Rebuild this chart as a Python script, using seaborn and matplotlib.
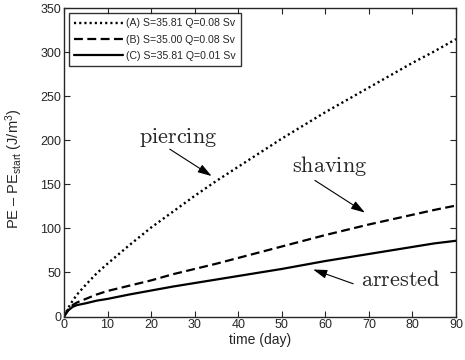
import numpy as np
import pandas as pd
import matplotlib
matplotlib.use("Agg")
import matplotlib.pyplot as plt
import seaborn as sns

# time axis (days) and potential-energy gain for each run (J/m^3)
time_days = [0, 1, 2, 3, 5, 7.5, 10, 15, 20, 25, 30, 35, 40, 45, 50, 55, 60, 65, 70, 75, 80, 85, 90]
pe_a = [0, 10, 18, 25, 36, 49, 60, 81, 101, 119, 137, 154, 170, 186, 202, 217, 232, 246, 260, 274, 288, 301, 315]
pe_b = [0, 8, 13, 16, 20, 25, 29, 35, 41, 48, 54, 60, 66.5, 73, 79.5, 86, 92.5, 98.5, 104.5, 110, 115.5, 121, 126]
pe_c = [0, 7, 11, 13, 15, 18, 20, 25, 29.5, 34, 38, 42, 46, 50, 54, 58.5, 63, 67, 71, 75, 79, 83, 86]

series_labels = ["(A) S=35.81 Q=0.08 Sv", "(B) S=35.00 Q=0.08 Sv", "(C) S=35.81 Q=0.01 Sv"]
x_ticks = list(range(0, 91, 10))
y_ticks = list(range(0, 351, 50))

sns.set_style("ticks")
plt.rcParams["font.family"] = ["Liberation Sans", "DejaVu Sans"]
plt.rcParams["mathtext.fontset"] = "custom"
plt.rcParams["mathtext.rm"] = "Liberation Sans"
plt.rcParams["mathtext.it"] = "Liberation Sans:italic"

fig = plt.figure(figsize=(4.65, 3.6), dpi=100)
ax = fig.add_axes([0.1376, 0.1208, 0.9806 - 0.1376, 0.977 - 0.1208])

styles = [(0, (0.9, 1.3)), (0, (4.0, 2.0)), "-"]
widths = [1.7, 1.6, 1.6]
for vals, lab, ls, lw in zip([pe_a, pe_b, pe_c], series_labels, styles, widths):
    df = pd.DataFrame({"t": time_days, "pe": vals})
    sns.lineplot(data=df, x="t", y="pe", ax=ax, color="black",
                 linestyle=ls, linewidth=lw, label=lab)

ax.set_xlim(0, 90)
ax.set_ylim(0, 350)
ax.set_xticks(x_ticks)
ax.set_yticks(y_ticks)
ax.tick_params(direction="in", length=4, width=0.8, labelsize=9,
               top=True, right=True, pad=2)
for s in ax.spines.values():
    s.set_linewidth(1.0)
    s.set_visible(True)

ax.set_xlabel("time (day)", fontsize=10, labelpad=1)
ax.set_ylabel(r"PE – PE$_{\mathrm{start}}$ (J/m$^3$)", fontsize=10.5)
ax.yaxis.set_label_coords(-0.1, 0.48)

leg = ax.legend(loc="upper left", fontsize=7.6, frameon=True, fancybox=False,
                edgecolor="black", handlelength=4.6, handletextpad=0.35,
                labelspacing=0.6, borderpad=0.5, borderaxespad=0.45)
leg.get_frame().set_linewidth(1.0)

arrow = dict(arrowstyle="-|>,head_length=0.7,head_width=0.22", color="black",
             lw=0.8, mutation_scale=12, shrinkA=0, shrinkB=0)
notes = [
    ("piercing", (26.2, 203), (24.3, 190), (33.9, 159.5)),
    ("shaving", (61.0, 171), (57.6, 154.6), (69.1, 118)),
    ("arrested", (77.3, 41), (66.4, 37.2), (57.2, 53.4)),
]
for word, txt_pos, tail, tip in notes:
    ax.text(*txt_pos, r"$\mathrm{%s}$" % word, fontsize=16, ha="center",
            va="center", math_fontfamily="cm")
    ax.annotate("", xy=tip, xytext=tail, arrowprops=arrow)

fig.savefig("out.png", dpi=100)
